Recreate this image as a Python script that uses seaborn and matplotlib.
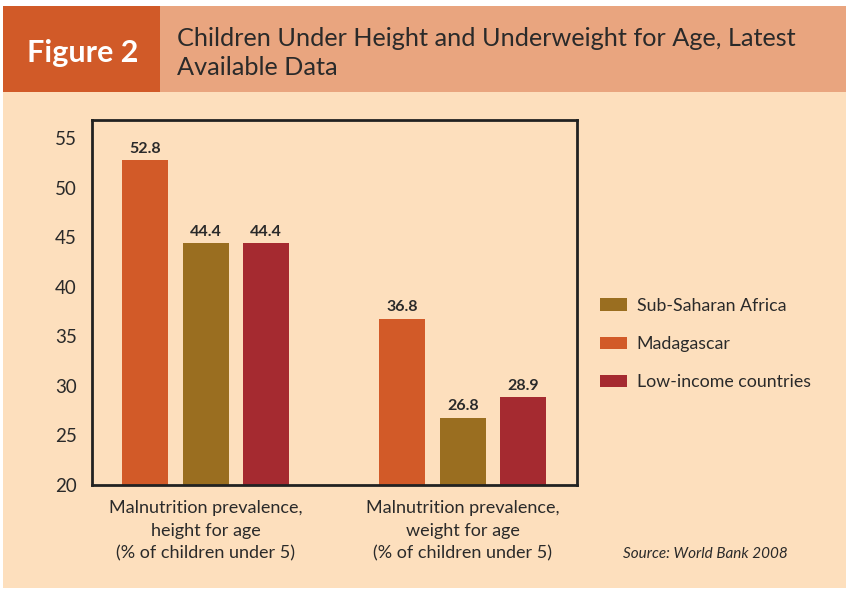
import matplotlib
matplotlib.use("Agg")
import matplotlib.pyplot as plt
import matplotlib.patches as mpatches
import seaborn as sns
import pandas as pd

categories = ["Malnutrition prevalence,\nheight for age\n(% of children under 5)",
              "Malnutrition prevalence,\nweight for age\n(% of children under 5)"]
series = ["Madagascar", "Sub-Saharan Africa", "Low-income countries"]
madagascar = [52.8, 36.8]
ssa = [44.4, 26.8]
low_income = [44.4, 28.9]
yticks = [20, 25, 30, 35, 40, 45, 50, 55]

colors = {"Madagascar": "#D25A28", "Sub-Saharan Africa": "#9A6E20",
          "Low-income countries": "#A52A30"}
bg = "#FDDFBD"

rows = []
for s, vals in zip(series, [madagascar, ssa, low_income]):
    for c, v in zip(categories, vals):
        rows.append({"category": c, "series": s, "value": v})
df = pd.DataFrame(rows)

sns.set_theme(style="white")
plt.rcParams["font.family"] = ["Lato", "DejaVu Sans"]

W, H = 846, 589
fig = plt.figure(figsize=(W / 100, H / 100), dpi=100)
fig.patch.set_facecolor("white")
# peach background
fig.patches.append(mpatches.Rectangle((3 / W, 1 - 588 / H), 1 - 3 / W, (588 - 92) / H,
                                      transform=fig.transFigure, facecolor=bg, edgecolor="none", zorder=-10))
# header band
fig.patches.append(mpatches.Rectangle((160 / W, 1 - 92 / H), 1 - 160 / W, 86 / H,
                                      transform=fig.transFigure, facecolor="#E9A57F", edgecolor="none", zorder=-10))
fig.patches.append(mpatches.Rectangle((3 / W, 1 - 92 / H), 157 / W, 86 / H,
                                      transform=fig.transFigure, facecolor="#D15A28", edgecolor="none", zorder=-10))
fig.text(83 / W, 1 - 53 / H, "Figure 2", color="white", fontsize=22, fontweight="bold",
         ha="center", va="center")
fig.text(177 / W, 1 - 53 / H, "Children Under Height and Underweight for Age, Latest\nAvailable Data",
         color="#2a2a2a", fontsize=18.2, ha="left", va="center", linespacing=1.27)

ax = fig.add_axes([92 / W, 1 - 485 / H, 485 / W, 365 / H])
ax.set_zorder(5)
ax.set_facecolor(bg)
sns.barplot(data=df, x="category", y="value", hue="series", hue_order=series,
            palette=colors, width=0.705, gap=0.24, ax=ax, legend=False,
            saturation=1, errorbar=None, linewidth=0)
ax.set_xlim(-0.441, 1.443)
ax.set_ylim(20, 56.85)
ax.set_yticks(yticks)
ax.set_yticklabels([str(t) for t in yticks], fontsize=13.5, color="#2a2a2a")
ax.tick_params(axis="y", length=0, pad=11)
ax.set_xticks([0, 1])
ax.set_xticklabels(categories, fontsize=13, color="#2a2a2a", linespacing=1.5)
ax.tick_params(axis="x", length=0, pad=11)
ax.set_xlabel("")
ax.set_ylabel("")
for sp in ax.spines.values():
    sp.set_visible(True)
    sp.set_color("#222222")
    sp.set_linewidth(2)

for cont in ax.containers:
    ax.bar_label(cont, fmt="%.1f", padding=3, fontsize=11.5, fontweight="bold", color="#2a2a2a")

leg_order = ["Sub-Saharan Africa", "Madagascar", "Low-income countries"]
handles = [mpatches.Patch(facecolor=colors[s], edgecolor="none") for s in leg_order]
fig.legend(handles, leg_order, loc="center left", bbox_to_anchor=(584 / W, 1 - 344 / H),
           frameon=False, fontsize=12.8, labelspacing=1.25, handlelength=1.5, handleheight=0.7,
           handletextpad=0.56, labelcolor="#2a2a2a")

fig.text(705 / W, 1 - 554 / H, "Source: World Bank 2008", fontsize=11, style="italic",
         color="#2a2a2a", ha="center", va="center")

fig.savefig("out.png", dpi=100)
